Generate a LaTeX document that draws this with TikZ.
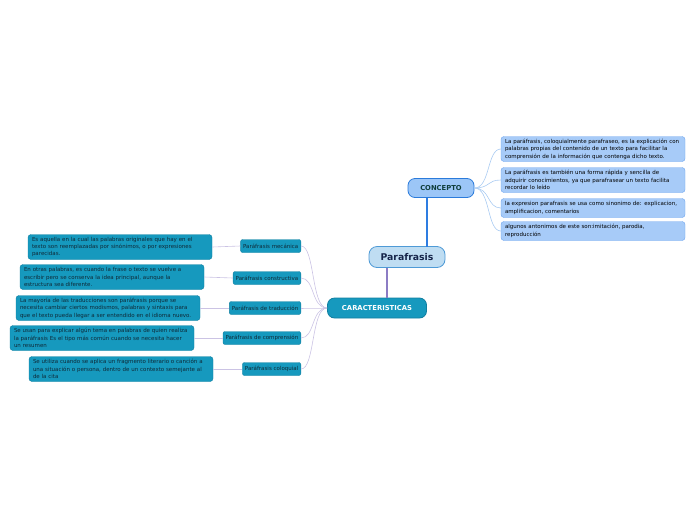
\documentclass[tikz,border=0pt]{standalone}
\usepackage{fontspec}
\setmainfont{DejaVu Sans}
\usetikzlibrary{positioning}

\definecolor{rootfill}{HTML}{BFDDF2}
\definecolor{rootline}{HTML}{4E9AD6}
\definecolor{roottext}{HTML}{16254A}
\definecolor{concfill}{HTML}{9CC6F7}
\definecolor{concline}{HTML}{2B7BDB}
\definecolor{conctext}{HTML}{0E3D3A}
\definecolor{itemfill}{HTML}{A7CBF8}
\definecolor{itemline}{HTML}{6EA4EE}
\definecolor{tealfill}{HTML}{1699BE}
\definecolor{tealline}{HTML}{117FA0}
\definecolor{tealtext}{HTML}{0F2A38}
\definecolor{bluearm}{HTML}{2E7DE1}
\definecolor{bluetwig}{HTML}{A9CBF2}
\definecolor{purplearm}{HTML}{8C7CC4}
\definecolor{purpletwig}{HTML}{CBC3E4}

\begin{document}
\begin{tikzpicture}[x=1pt, y=-1pt,
    root/.style={draw=rootline, fill=rootfill, rounded corners=8pt, line width=0.8pt, minimum width=76pt, minimum height=21pt, text=roottext, font=\fontsize{9.3}{10}\selectfont\bfseries},
    topic/.style={draw=concline, fill=concfill, rounded corners=7pt, line width=0.8pt, minimum width=66pt, minimum height=19pt, text=conctext, font=\fontsize{6.8}{8}\selectfont\bfseries},
    topicb/.style={topic, draw=tealline, fill=tealfill, minimum width=99pt, minimum height=20pt, text=white},
    item/.style={draw=itemline, fill=itemfill, rounded corners=3pt, align=left, text width=176pt, inner xsep=4pt, inner ysep=2pt, font=\fontsize{5.5}{7.4}\selectfont, text=black},
    desc/.style={item, draw=tealline, fill=tealfill, text=tealtext},
    kind/.style={draw=tealline, fill=tealfill, rounded corners=2pt, inner xsep=2.5pt, minimum height=13pt, text=tealtext, font=\fontsize{5.5}{6.5}\selectfont, anchor=east},
    arma/.style={draw=bluearm, line width=1.2pt},
    armb/.style={draw=purplearm, line width=1.2pt},
    twiga/.style={draw=bluetwig, line width=0.6pt},
    twigb/.style={draw=purpletwig, line width=0.6pt}
]
\useasboundingbox (0,0) rectangle (696,520);

% central idea and the two main branches
\node[root] (P) at (407,257) {Parafrasis};
\node[topic] (C) at (441,188) {CONCEPTO};
\node[topicb] (K) at (377,308) {CARACTERISTICAS};

\draw[arma] (C.south -| 427,0) -- (427,247);
\draw[armb] (387,268) -- (K.north -| 387,0);

% concepto
\node[item, minimum height=25pt] (c1) at (593,149) {La paráfrasis, coloquialmente parafraseo, es la explicación con\\palabras propias del contenido de un texto para facilitar la\\comprensión de la información que contenga dicho texto.};
\node[item, minimum height=25pt] (c2) at (593,180) {La paráfrasis es también una forma rápida y sencilla de\\adquirir conocimientos, ya que parafrasear un texto facilita\\recordar lo leído};
\node[item, minimum height=19pt] (c3) at (593,208) {la expresion parafrasis se usa como sinonimo de: explicacion,\\amplificacion, comentarios};
\node[item, minimum height=19pt] (c4) at (593,231) {algunos antonimos de este son:imitación, parodia,\\reproducción};

\foreach \n in {c1,c2,c3,c4}
  \draw[twiga] (C.east) .. controls +(16,0) and +(-14,0) .. (\n.west);

% caracteristicas
\node[kind] (k1) at (301,246) {Paráfrasis mecánica};
\node[kind] (k2) at (301,278) {Paráfrasis constructiva};
\node[kind] (k3) at (301,308) {Paráfrasis de traducción};
\node[kind] (k4) at (301,338) {Paráfrasis de comprensión};
\node[kind] (k5) at (301,369) {Paráfrasis coloquial};

\foreach \n in {k1,k2,k3,k4,k5}
  \draw[twigb] (K.west) .. controls +(-16,0) and +(14,0) .. (\n.east);

\node[desc, minimum height=25pt] (d1) at (120,247) {Es aquella en la cual las palabras originales que hay en el\\texto son reemplazadas por sinónimos, o por expresiones\\parecidas.};
\node[desc, minimum height=25pt] (d2) at (112,277) {En otras palabras, es cuando la frase o texto se vuelve a\\escribir pero se conserva la idea principal, aunque la\\estructura sea diferente.};
\node[desc, minimum height=25pt] (d3) at (108,308) {La mayoría de las traducciones son paráfrasis porque se\\necesita cambiar ciertos modismos, palabras y sintaxis para\\que el texto pueda llegar a ser entendido en el idioma nuevo.};
\node[desc, minimum height=25pt] (d4) at (102,338) {Se usan para explicar algún tema en palabras de quien realiza\\la paráfrasis Es el tipo más común cuando se necesita hacer\\un resumen};
\node[desc, minimum height=25pt] (d5) at (121,369) {Se utiliza cuando se aplica un fragmento literario o canción a\\una situación o persona, dentro de un contexto semejante al\\de la cita};

\foreach \n in {1,...,5}
  \draw[twigb] (d\n.east) -- (k\n.west);
\end{tikzpicture}
\end{document}
